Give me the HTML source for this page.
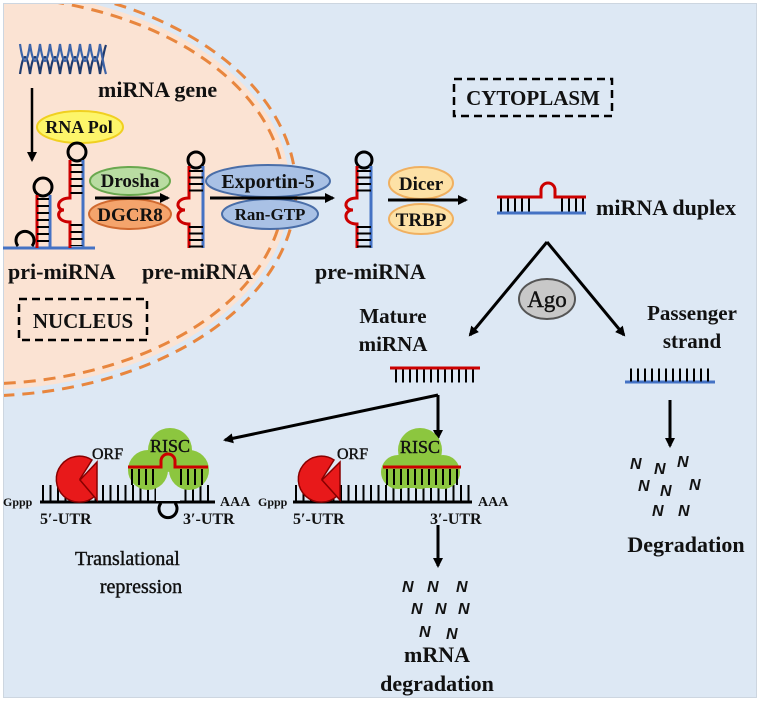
<!DOCTYPE html>
<html><head><meta charset="utf-8"><style>
html,body{margin:0;padding:0;background:#fff}
svg{display:block}
text{font-family:"Liberation Serif",serif;font-weight:bold;fill:#111}
text.r{font-weight:normal;stroke:#111;stroke-width:0.4}
.n{font-family:"Liberation Sans",sans-serif;font-style:italic;font-size:16px}
</style></head><body>
<svg width="763" height="706" viewBox="0 0 763 706" xmlns="http://www.w3.org/2000/svg">
<defs>
<marker id="ar" markerWidth="10" markerHeight="10" refX="8" refY="5" orient="auto" markerUnits="userSpaceOnUse"><path d="M0,0 L10,5 L0,10 z" fill="#000"/></marker>
<clipPath id="pc"><rect x="3" y="3" width="754" height="695"/></clipPath>
<g id="hp">
 <circle cx="7" cy="-88" r="8" fill="none" stroke="#000" stroke-width="3"/>
 <path d="M0,-82 V-50 C-14,-50 -14,-38 -4,-38 C-14,-38 -14,-24 0,-24 V0" fill="none" stroke="#c00" stroke-width="3"/>
 <line x1="14" y1="-82" x2="14" y2="0" stroke="#4472c4" stroke-width="3"/>
 <line x1="7" y1="-78" x2="7" y2="-52" stroke="#000" stroke-width="14" stroke-dasharray="2 4.5"/>
 <line x1="7" y1="-22" x2="7" y2="0" stroke="#000" stroke-width="14" stroke-dasharray="2 4.5"/>
</g>
</defs>
<g clip-path="url(#pc)">
<rect x="3" y="3" width="754" height="695" fill="#dde8f4"/>
<ellipse cx="-20" cy="190" rx="310" ry="200" fill="#fbe3d3"/>
<ellipse cx="-20" cy="190" rx="304" ry="194" fill="none" stroke="#e8863e" stroke-width="3" stroke-dasharray="12 8"/>
<ellipse cx="-20" cy="190" rx="316" ry="206" fill="none" stroke="#e8863e" stroke-width="3" stroke-dasharray="12 8"/>
</g>
<rect x="3.5" y="3.5" width="753" height="694" fill="none" stroke="#cdd6e0" stroke-width="1"/>

<!-- DNA -->
<path d="M20,74 Q25,40 30,74 Q35,40 40,74 Q45,40 50,74 Q55,40 60,74 Q65,40 70,74 Q75,40 80,74 Q85,40 90,74 Q95,40 100,74 Q104,50 106,45" fill="none" stroke="#1f3b6e" stroke-width="2.2"/>
<path d="M20,44 Q25,78 30,44 Q35,78 40,44 Q45,78 50,44 Q55,78 60,44 Q65,78 70,44 Q75,78 80,44 Q85,78 90,44 Q95,78 100,44 Q104,68 106,74" fill="none" stroke="#3d64a8" stroke-width="2.2"/>
<text x="98" y="97" font-size="22">miRNA gene</text>
<line x1="32" y1="88" x2="32" y2="160" stroke="#000" stroke-width="2.5" marker-end="url(#ar)"/>
<ellipse cx="80" cy="127" rx="43" ry="16" fill="#fdf56a" stroke="#f0d020" stroke-width="2"/>
<text x="79" y="133" font-size="18" text-anchor="middle">RNA Pol</text>

<!-- pri-miRNA -->
<line x1="3" y1="248" x2="95" y2="248" stroke="#4472c4" stroke-width="3"/>
<path d="M18,246 A9,9 0 1 1 32,246" fill="none" stroke="#000" stroke-width="3"/>
<circle cx="43" cy="187" r="9" fill="none" stroke="#000" stroke-width="3"/>
<line x1="37" y1="195" x2="37" y2="248" stroke="#c00" stroke-width="3"/>
<line x1="50" y1="195" x2="50" y2="248" stroke="#4472c4" stroke-width="3"/>
<line x1="43" y1="198" x2="43" y2="246" stroke="#000" stroke-width="12" stroke-dasharray="2 5"/>
<circle cx="77" cy="152" r="9" fill="none" stroke="#000" stroke-width="3"/>
<path d="M70,160 V198 C56,198 56,210 64,210 C56,210 56,222 70,222 V248" fill="none" stroke="#c00" stroke-width="3"/>
<line x1="83" y1="160" x2="83" y2="248" stroke="#4472c4" stroke-width="3"/>
<line x1="76.5" y1="164" x2="76.5" y2="196" stroke="#000" stroke-width="12" stroke-dasharray="2 5"/>
<line x1="76.5" y1="224" x2="76.5" y2="246" stroke="#000" stroke-width="12" stroke-dasharray="2 5"/>
<text x="8" y="279" font-size="22">pri-miRNA</text>

<!-- Drosha -->
<ellipse cx="130" cy="181" rx="40" ry="14" fill="#b9dca2" stroke="#6aa84f" stroke-width="2"/>
<text x="130" y="187" font-size="19" text-anchor="middle">Drosha</text>
<ellipse cx="130" cy="214" rx="41" ry="15" fill="#f4a46c" stroke="#d06a30" stroke-width="2"/>
<text x="130" y="221" font-size="19" text-anchor="middle">DGCR8</text>
<line x1="95" y1="198" x2="168" y2="198" stroke="#000" stroke-width="3" marker-end="url(#ar)"/>

<use href="#hp" x="189" y="248"/>
<text x="142" y="279" font-size="22">pre-miRNA</text>

<!-- Exportin -->
<ellipse cx="268" cy="181" rx="62" ry="16" fill="#a9c1e5" stroke="#4a6ea8" stroke-width="2"/>
<text x="268" y="188" font-size="20" text-anchor="middle">Exportin-5</text>
<ellipse cx="270" cy="214" rx="48" ry="15" fill="#a9c1e5" stroke="#4a6ea8" stroke-width="2"/>
<text x="270" y="220" font-size="17" text-anchor="middle">Ran-GTP</text>
<line x1="210" y1="198" x2="333" y2="198" stroke="#000" stroke-width="3" marker-end="url(#ar)"/>

<use href="#hp" x="357" y="248"/>
<text x="315" y="279" font-size="22">pre-miRNA</text>

<rect x="19" y="299" width="128" height="41" fill="none" stroke="#000" stroke-width="2.5" stroke-dasharray="8 5"/>
<text x="83" y="328" font-size="21" text-anchor="middle">NUCLEUS</text>
<rect x="454" y="79" width="158" height="37" fill="none" stroke="#000" stroke-width="2.5" stroke-dasharray="8 5"/>
<text x="533" y="105" font-size="21" text-anchor="middle">CYTOPLASM</text>

<!-- Dicer -->
<ellipse cx="421" cy="183" rx="32" ry="16" fill="#fde1a6" stroke="#f0b060" stroke-width="2"/>
<text x="421" y="190" font-size="19" text-anchor="middle">Dicer</text>
<ellipse cx="421" cy="219" rx="32" ry="15" fill="#fde1a6" stroke="#f0b060" stroke-width="2"/>
<text x="421" y="226" font-size="19" text-anchor="middle">TRBP</text>
<line x1="388" y1="200" x2="466" y2="200" stroke="#000" stroke-width="3" marker-end="url(#ar)"/>

<!-- duplex -->
<path d="M497,197 H541 V190 A7,7 0 1 1 555,190 V197 H586" fill="none" stroke="#c00" stroke-width="3"/>
<line x1="497" y1="213" x2="586" y2="213" stroke="#4472c4" stroke-width="3"/>
<line x1="500" y1="205" x2="535" y2="205" stroke="#000" stroke-width="13" stroke-dasharray="2 5"/>
<line x1="561" y1="205" x2="584" y2="205" stroke="#000" stroke-width="13" stroke-dasharray="2 5"/>
<text x="596" y="215" font-size="22">miRNA duplex</text>

<line x1="547" y1="242" x2="470" y2="335" stroke="#000" stroke-width="3" marker-end="url(#ar)"/>
<line x1="547" y1="242" x2="624" y2="335" stroke="#000" stroke-width="3" marker-end="url(#ar)"/>
<ellipse cx="547" cy="299" rx="28" ry="20" fill="#c8c8c8" stroke="#555" stroke-width="2"/>
<text class="r" x="547" y="307" font-size="23" text-anchor="middle">Ago</text>

<text x="393" y="323" font-size="21" text-anchor="middle">Mature</text>
<text x="393" y="351" font-size="21" text-anchor="middle">miRNA</text>
<text x="692" y="320" font-size="21" text-anchor="middle">Passenger</text>
<text x="692" y="348" font-size="21" text-anchor="middle">strand</text>

<line x1="390" y1="368" x2="480" y2="368" stroke="#c00" stroke-width="3"/>
<line x1="395" y1="376" x2="476" y2="376" stroke="#000" stroke-width="13" stroke-dasharray="2 5"/>
<line x1="625" y1="382" x2="715" y2="382" stroke="#4472c4" stroke-width="3"/>
<line x1="630" y1="375" x2="711" y2="375" stroke="#000" stroke-width="13" stroke-dasharray="2 5"/>

<line x1="438" y1="395" x2="225" y2="440" stroke="#000" stroke-width="3" marker-end="url(#ar)"/>
<line x1="438" y1="395" x2="438" y2="438" stroke="#000" stroke-width="3" marker-end="url(#ar)"/>

<!-- left mRNA -->
<line x1="40" y1="502" x2="215" y2="502" stroke="#000" stroke-width="3"/>
<line x1="42" y1="493" x2="212" y2="493" stroke="#000" stroke-width="16" stroke-dasharray="2 5.5"/>
<path d="M161,503 A9,9 0 1 0 175,503" fill="none" stroke="#000" stroke-width="3"/>
<rect x="156" y="485" width="24" height="16" fill="#dde8f4"/>
<circle cx="148" cy="470" r="20" fill="#8cc63f"/>
<circle cx="189" cy="470" r="20" fill="#8cc63f"/>
<circle cx="170" cy="450" r="22" fill="#8cc63f"/>
<text class="r" x="170" y="452" font-size="18" text-anchor="middle">RISC</text>
<path d="M128,467 H161 V461 A7,7 0 1 1 175,461 V467 H208" fill="none" stroke="#c00" stroke-width="3"/>
<line x1="131" y1="477" x2="158" y2="477" stroke="#000" stroke-width="16" stroke-dasharray="2 5"/>
<line x1="180" y1="477" x2="206" y2="477" stroke="#000" stroke-width="16" stroke-dasharray="2 5"/>
<path d="M80,479 L92,460 A23,23 0 1 0 95,496 Z" fill="#e8191a" stroke="#800" stroke-width="1.5"/>
<path d="M80,480 L97,462 L97,500 Z" fill="#e8191a" stroke="#800" stroke-width="1.5"/>
<text class="r" x="92" y="459" font-size="16">ORF</text>
<text x="3" y="506" font-size="12">Gppp</text>
<text x="220" y="506" font-size="14">AAA</text>
<text x="40" y="524" font-size="16">5′-UTR</text>
<text x="183" y="524" font-size="16">3′-UTR</text>
<text class="r" x="75" y="565" font-size="20">Translational</text>
<text class="r" x="141" y="593" font-size="20" text-anchor="middle">repression</text>

<!-- right mRNA -->
<line x1="293" y1="502" x2="472" y2="502" stroke="#000" stroke-width="3"/>
<line x1="295" y1="493" x2="470" y2="493" stroke="#000" stroke-width="16" stroke-dasharray="2 5.5"/>
<circle cx="398" cy="472" r="17" fill="#8cc63f"/>
<circle cx="443" cy="472" r="17" fill="#8cc63f"/>
<circle cx="420" cy="450" r="22" fill="#8cc63f"/>
<rect x="396" y="460" width="48" height="28" fill="#8cc63f"/>
<circle cx="420" cy="474" r="15" fill="#8cc63f"/>
<text class="r" x="420" y="453" font-size="18" text-anchor="middle">RISC</text>
<line x1="383" y1="467" x2="461" y2="467" stroke="#c00" stroke-width="3"/>
<line x1="386" y1="477" x2="459" y2="477" stroke="#000" stroke-width="16" stroke-dasharray="2 5"/>
<path d="M322,479 L334,460 A23,23 0 1 0 337,496 Z" fill="#e8191a" stroke="#800" stroke-width="1.5"/>
<path d="M322,480 L340,462 L340,500 Z" fill="#e8191a" stroke="#800" stroke-width="1.5"/>
<text class="r" x="337" y="459" font-size="16">ORF</text>
<text x="258" y="506" font-size="12">Gppp</text>
<text x="478" y="506" font-size="14">AAA</text>
<text x="293" y="524" font-size="16">5′-UTR</text>
<text x="430" y="524" font-size="16">3′-UTR</text>

<line x1="438" y1="525" x2="438" y2="566" stroke="#000" stroke-width="3" marker-end="url(#ar)"/>
<text class="n" x="402" y="592">N</text><text class="n" x="427" y="592">N</text><text class="n" x="456" y="592">N</text>
<text class="n" x="411" y="614">N</text><text class="n" x="435" y="614">N</text><text class="n" x="458" y="614">N</text>
<text class="n" x="419" y="637">N</text><text class="n" x="446" y="639">N</text>
<text x="437" y="662" font-size="22" text-anchor="middle">mRNA</text>
<text x="437" y="691" font-size="22" text-anchor="middle">degradation</text>

<!-- passenger degradation -->
<line x1="670" y1="400" x2="670" y2="446" stroke="#000" stroke-width="3" marker-end="url(#ar)"/>
<text class="n" x="630" y="469">N</text><text class="n" x="654" y="474">N</text><text class="n" x="677" y="467">N</text>
<text class="n" x="638" y="491">N</text><text class="n" x="660" y="496">N</text><text class="n" x="689" y="490">N</text>
<text class="n" x="652" y="516">N</text><text class="n" x="678" y="516">N</text>
<text x="686" y="552" font-size="22" text-anchor="middle">Degradation</text>
</svg>
</body></html>
